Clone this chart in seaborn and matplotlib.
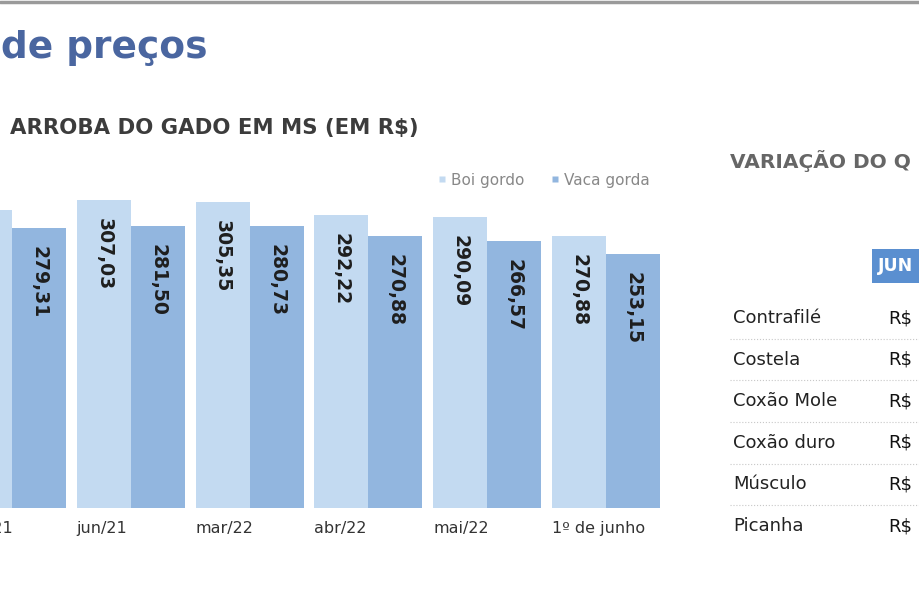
import matplotlib
matplotlib.use("Agg")
import matplotlib.pyplot as plt
from matplotlib.patches import Rectangle
from matplotlib.lines import Line2D
import seaborn as sns
import numpy as np
import pandas as pd

periodos = ["mai/21", "jun/21", "mar/22", "abr/22", "mai/22", "1º de junho"]
boi_gordo = [297.50, 307.03, 305.35, 292.22, 290.09, 270.88]
vaca_gorda = [279.31, 281.50, 280.73, 270.88, 266.57, 253.15]
series = ["Boi gordo", "Vaca gorda"]
cores = ["#c3daf1", "#92b6df"]

cortes = ["Contrafilé", "Costela", "Coxão Mole", "Coxão duro", "Músculo", "Picanha"]

df = pd.DataFrame({
    "periodo": periodos * 2,
    "serie": [series[0]] * len(periodos) + [series[1]] * len(periodos),
    "valor": boi_gordo + vaca_gorda,
})

sns.set_style("white")
plt.rcParams["font.family"] = ["DejaVu Sans"]

fig = plt.figure(figsize=(9.2, 6.15), dpi=100)
W, H = 920, 615

# o gráfico começa um pouco antes da borda (recorte do original)
ax = fig.add_axes([-47.4 / W, (H - 508) / H, 712.8 / W, 331 / H])

sns.barplot(
    data=df, x="periodo", y="valor", hue="serie",
    hue_order=series, palette=cores, width=0.91, gap=0,
    linewidth=0, saturation=1, ax=ax, legend=False
)

for s in ax.spines.values():
    s.set_visible(False)
ax.set_yticks([])
ax.set_ylabel("")
ax.set_xlabel("")

# rótulos dos meses alinhados à esquerda do grupo
ax.set_xticks(np.arange(len(periodos)) - 0.455)
ax.set_xticklabels(periodos, ha="left", fontsize=11.5, color="#333333")
ax.tick_params(axis="x", length=0, pad=9)

ax.set_xlim(-0.5, 5.5)
ax.set_ylim(0, 330)

# valores dentro das barras
for cont in ax.containers:
    for bar in cont:
        v = bar.get_height()
        ax.annotate(
            f"{v:.2f}".replace(".", ","),
            (bar.get_x() + bar.get_width() / 2, v),
            xytext=(0, -13), textcoords="offset points",
            ha="center", va="top", rotation=270,
            fontsize=13.5, fontweight="bold", color="#1e1e1e",
        )

# legenda
handles = [Line2D([], [], marker="s", linestyle="", markersize=5,
                  markerfacecolor=c, markeredgecolor="none") for c in cores]
fig.legend(handles, series, loc="center right", ncol=2, frameon=False,
           bbox_to_anchor=(664 / W, 1 - 180 / H), fontsize=11,
           labelcolor="#888888", handletextpad=0.2, columnspacing=1.6,
           handlelength=0.8)

# topo e títulos
fig.add_artist(Line2D([0, 1], [1 - 1.5 / H, 1 - 1.5 / H], color="#9a9a9a",
                      linewidth=2.5, transform=fig.transFigure))
fig.text(1 / W, 1 - 48 / H, "de preços", fontsize=27, fontweight="bold",
         color="#4a66a0", va="center", ha="left")
fig.text(10 / W, 1 - 128 / H, "ARROBA DO GADO EM MS (EM R$)", fontsize=15.3,
         fontweight="bold", color="#3c3c3c", va="center", ha="left")
fig.text(730 / W, 1 - 161 / H, "VARIAÇÃO DO Q", fontsize=14.5,
         fontweight="bold", color="#666666", va="center", ha="left")

# tabela lateral
fig.patches.append(Rectangle((872 / W, 1 - 283 / H), 60 / W, 34 / H,
                             transform=fig.transFigure, facecolor="#5a8fd0",
                             edgecolor="none"))
fig.text(878 / W, 1 - 266 / H, "JUN", fontsize=12.5, fontweight="bold",
         color="white", va="center", ha="left")

y0, passo = 318, 41.6
for i, nome in enumerate(cortes):
    y = y0 + i * passo
    fig.text(733 / W, 1 - y / H, nome, fontsize=13, color="#222222",
             va="center", ha="left")
    fig.text(888 / W, 1 - y / H, "R$", fontsize=13, color="#111111",
             va="center", ha="left")
    if i < len(cortes) - 1:
        ys = 1 - (y + passo / 2) / H
        fig.add_artist(Line2D([730 / W, 1], [ys, ys], color="#c8c8c8",
                              linewidth=0.8, linestyle=":",
                              transform=fig.transFigure))

fig.savefig("out.png", dpi=100)
